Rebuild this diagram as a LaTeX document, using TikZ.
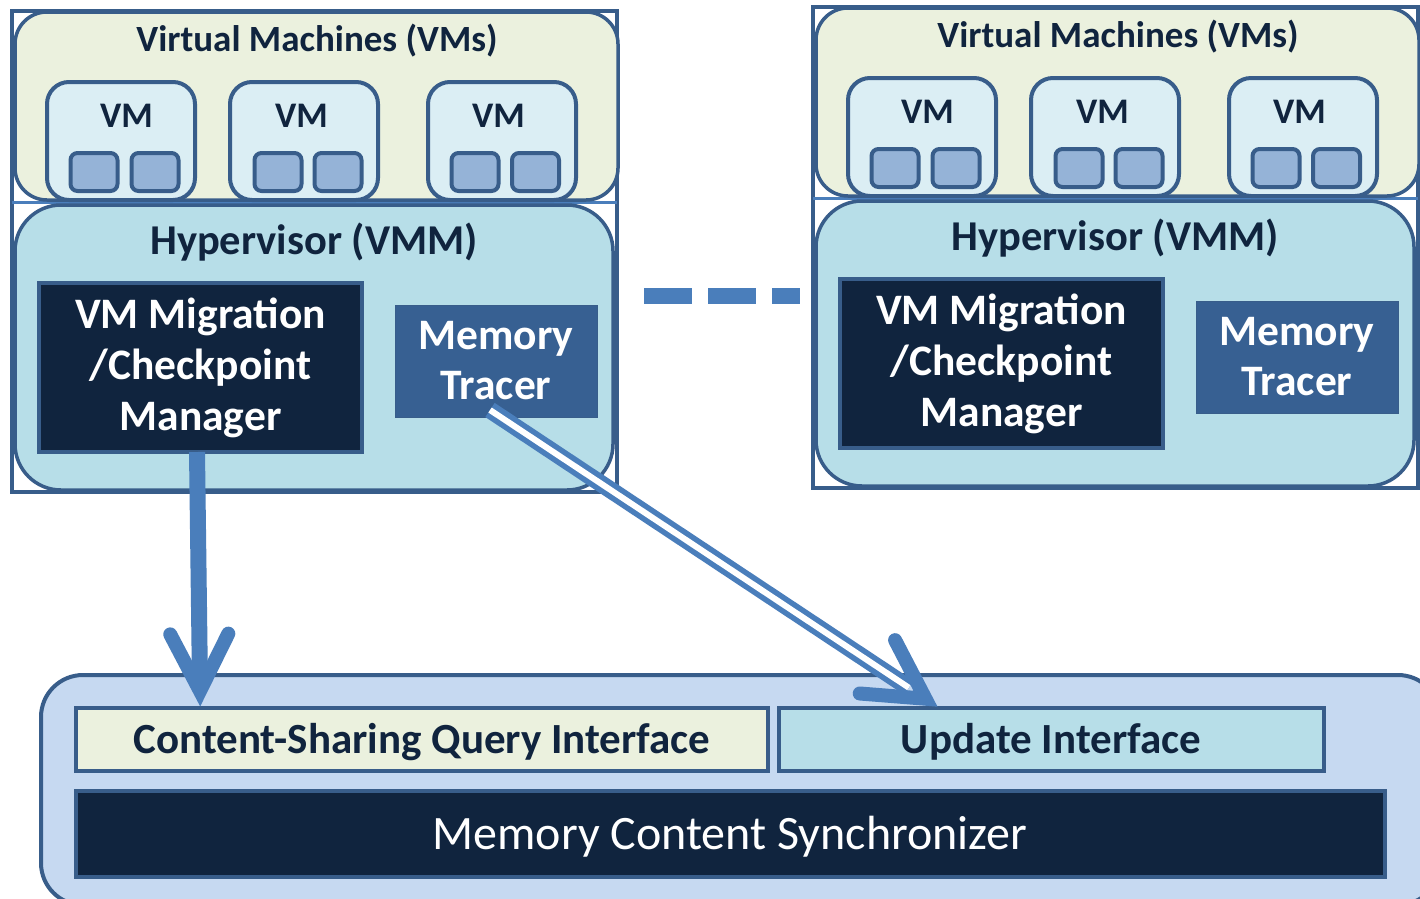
\documentclass[tikz,border=0pt]{standalone}
\usepackage{fontspec}
\setmainfont{Carlito}
\usetikzlibrary{calc}
\definecolor{dkblue}{HTML}{385D8A}
\definecolor{arrowblue}{HTML}{4A7EBB}
\definecolor{vmgreen}{HTML}{EBF1DE}
\definecolor{hypblue}{HTML}{B7DEE8}
\definecolor{vmfill}{HTML}{DBEEF4}
\definecolor{cpufill}{HTML}{95B3D7}
\definecolor{navy}{HTML}{10243E}
\definecolor{tracerc}{HTML}{376092}
\definecolor{botfill}{HTML}{C6D9F1}
\newcommand\drawhost[1]{%
  \node[outerrect] (#1outer) at (314.5,251.5) {};
  \draw[sepline] (12,202) -- (617,202);
  \node[vmcont] (#1vms) at (316.5,106) {};
  \node[hypcont] (#1hyp) at (314,347.5) {};
  \node[title] (#1vmstitle) at (317,51) {Virtual Machines (VMs)};
  \foreach \i/\x/\lx/\a/\b in {1/121/126.5/94/155, 2/304/301.5/278/338, 3/502/498.5/475/535.5}{
    \node[vmbox] (#1vm\i) at (\x,141) {};
    \node[vmlabel] (#1vmlab\i) at (\lx,127) {VM};
    \node[cpubox] (#1cpua\i) at (\a,172) {};
    \node[cpubox] (#1cpub\i) at (\b,172) {};
  }
  \node[hyptitle] (#1hyptitle) at (314,254) {Hypervisor (VMM)};
  \node[migbox] (#1mig) at (200.5,367.5) {VM Migration\\/Checkpoint\\Manager};
  \node[tracerbox] (#1tr) at (496,361) {Memory\\Tracer};
}
\begin{document}
\begin{tikzpicture}[x=1pt,y=-1pt,
  box/.style={inner sep=0pt, outer sep=0pt},
  outerrect/.style={box, draw=dkblue, line width=3.2pt, minimum width=605pt, minimum height=481pt},
  sepline/.style={draw=arrowblue, line width=3pt},
  vmcont/.style={box, draw=dkblue, fill=vmgreen, line width=3.5pt, rounded corners=32pt, minimum width=603pt, minimum height=188pt},
  hypcont/.style={box, draw=dkblue, fill=hypblue, line width=3.5pt, rounded corners=46pt, minimum width=598pt, minimum height=285pt},
  vmbox/.style={box, draw=dkblue, fill=vmfill, line width=4pt, rounded corners=22pt, minimum width=148pt, minimum height=118pt},
  cpubox/.style={box, draw=dkblue, fill=cpufill, line width=4pt, rounded corners=7pt, minimum width=47pt, minimum height=38pt},
  migbox/.style={box, draw=dkblue, fill=navy, line width=4pt, minimum width=323pt, minimum height=169pt, text=white, align=center, font=\bfseries\fontsize{43.5}{51}\selectfont},
  tracerbox/.style={box, draw=dkblue, line width=1pt, fill=tracerc, minimum width=202pt, minimum height=112pt, text=white, align=center, font=\bfseries\fontsize{43.5}{50}\selectfont},
  title/.style={box, anchor=base, text=navy, font=\bfseries\fontsize{37}{44}\selectfont},
  vmlabel/.style={box, anchor=base, text=navy, font=\bfseries\fontsize{36}{44}\selectfont},
  hyptitle/.style={box, anchor=base, text=navy, font=\bfseries\fontsize{42.5}{48}\selectfont},
  botcont/.style={box, draw=dkblue, fill=botfill, line width=4pt, rounded corners=42pt, minimum width=1399pt, minimum height=230pt},
  ifbox/.style={box, draw=dkblue, line width=4pt, minimum height=63pt},
  iftext/.style={box, anchor=base, text=navy, font=\bfseries\fontsize{43}{50}\selectfont},
  syncbox/.style={box, draw=dkblue, fill=navy, line width=4pt, minimum width=1309pt, minimum height=86pt},
  synctext/.style={box, anchor=base, text=white, font=\fontsize{48}{56}\selectfont},
  dashconn/.style={draw=arrowblue, line width=16pt, dash pattern=on 48pt off 16pt},
  shaft/.style={draw=arrowblue, line width=16pt},
  barb/.style={draw=arrowblue, line width=14pt, line cap=round, line join=miter, miter limit=20},
  dbl/.style={draw=arrowblue, double=white, line width=5.5pt, double distance=6pt}
]
\useasboundingbox (0,0) rectangle (1420,898);
\clip (0,0) rectangle (1420,898);
\fill[white] (0,0) rectangle (1420,898);

\begin{scope}
  \drawhost{L}
\end{scope}
\begin{scope}[shift={(801,-4)}]
  \drawhost{R}
\end{scope}

% dashed link between hosts
\coordinate (dashA) at (644,296);
\coordinate (dashB) at (800,296);
\draw[dashconn] (dashA) -- (dashB);

% bottom component
\node[botcont] (bot) at (740.5,790) {};
\node[ifbox, fill=vmgreen, minimum width=692pt] (csq) at (422,739.5) {};
\node[ifbox, fill=hypblue, minimum width=545pt] (upd) at (1051.5,739.5) {};
\node[iftext] (csqtext) at (422,753) {Content-Sharing Query Interface};
\node[iftext] (updtext) at (1051,753) {Update Interface};
\node[syncbox] (sync) at (730.5,834) {};
\node[synctext] (synctext) at (730,849) {Memory Content Synchronizer};

% arrow: migration manager -> query interface
\coordinate (s1) at ([xshift=-3.5pt]Lmig.south);
\coordinate (tipV) at (200,691);
\draw[shaft] (s1) -- ($(tipV)+(0,-6)$);
\draw[barb] ($(tipV)!64pt!27:(s1)$) -- (tipV) -- ($(tipV)!64pt!-27:(s1)$);

% double arrow: memory tracer -> update interface
\coordinate (s2) at ($(Ltr.center)+(-6,49)$);
\coordinate (tipD) at (925.5,698.7);
\draw[dbl, shorten >=20pt] (s2) -- (tipD);
\draw[barb] ($(tipD)!66pt!29:(s2)$) -- (tipD) -- ($(tipD)!66pt!-29:(s2)$);
\end{tikzpicture}
\end{document}
